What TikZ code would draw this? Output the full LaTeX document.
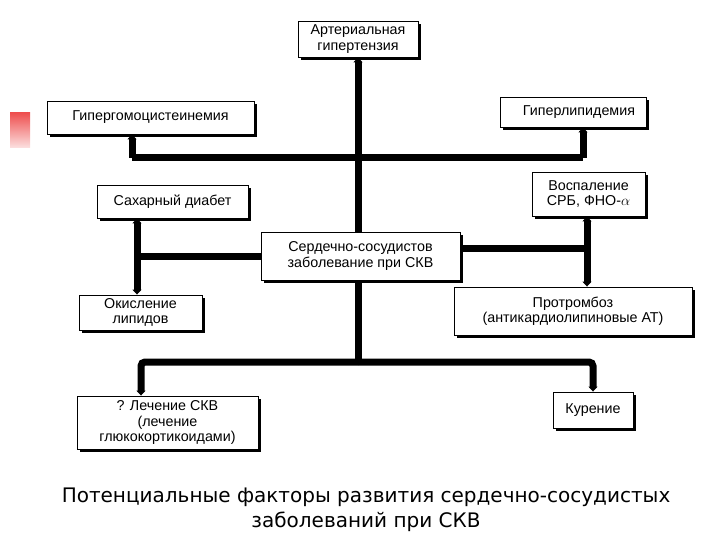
\documentclass[tikz,border=0pt]{standalone}
\usepackage{fontspec}
\setmainfont{Liberation Sans}
\newfontfamily\capfont{DejaVu Sans}
\usetikzlibrary{shadows,arrows.meta}
\tikzset{
  box/.style={draw=black, line width=0.9pt, fill=white, align=center, inner sep=1pt,
    font=\fontsize{14.3}{15.5}\selectfont,
    drop shadow={shadow xshift=3pt, shadow yshift=-3pt, opacity=1, fill=black}},
  bus/.style={line width=7pt, draw=black, rounded corners=4pt},
  tipped/.style={bus, -{Triangle[width=9pt,length=5pt]}},
}
\begin{document}
\begin{tikzpicture}[x=1pt,y=-1pt]
\useasboundingbox (0,0) rectangle (720,540);
% red marker
\shade[top color={rgb,255:red,238;green,80;blue,80}, bottom color={rgb,255:red,252;green,225;blue,225}] (10,113) rectangle (30,148);
% boxes
\node[box, minimum width=120pt, minimum height=36pt] (art) at (358,39) {Артериальная\\гипертензия};
\node[box, minimum width=207pt, minimum height=33pt] (hcy) at (150.5,117.5) {Гипергомоцистеинемия};
\node[box, minimum width=146pt, minimum height=30pt] (hlip) at (573,112) {\hspace*{12pt}Гиперлипидемия};
\node[box, minimum width=151pt, minimum height=33pt] (diab) at (172.5,201.5) {Сахарный диабет};
\node[box, minimum width=113pt, minimum height=44pt] (infl) at (588.5,194) {Воспаление\\СРБ, ФНО-$\alpha$};
\node[box, minimum width=199pt, minimum height=48pt] (cvd) at (360.5,256) {Сердечно-сосудистов\\заболевание при СКВ};
\node[box, minimum width=123pt, minimum height=35pt] (oxid) at (140.5,312.5) {Окисление\\липидов};
\node[box, minimum width=238pt, minimum height=48pt] (thr) at (573,311) {Протромбоз\\(антикардиолипиновые АТ)};
\node[box, minimum width=181pt, minimum height=53pt] (trt) at (167.5,422.5) {? Лечение СКВ\\(лечение\\глюкокортикоидами)};
\node[box, minimum width=80pt, minimum height=36pt] (smk) at (593,410) {Курение};
% junction coordinates
\coordinate (tL) at (132,158);
\coordinate (tR) at (583,158);
\coordinate (lV) at (137,256);
\coordinate (rV) at (587,248);
\coordinate (bC) at (358,362);
\coordinate (bL) at (141,362);
\coordinate (bR) at (593,362);
% top connectors
\draw[tipped] (cvd.north -| art.south) -- (art.south);
\draw[bus] (tL) -- (tR);
\draw[tipped] (tL) -- (tL |- hcy.south);
\draw[tipped] (tR) -- (tR |- hlip.south);
% left
\draw[bus] (cvd.west |- lV) -- (lV);
\draw[tipped] (lV) -- (lV |- diab.south);
\draw[tipped] (lV) -- (lV |- oxid.north);
% right
\draw[bus] (cvd.east |- rV) -- (rV);
\draw[tipped] (rV) -- (rV |- infl.south);
\draw[tipped] (rV) -- (rV |- thr.north);
% bottom
\draw[bus] (cvd.south -| bC) -- (bC);
\draw[tipped] (bC) -- (bL) -- (bL |- trt.north);
\draw[tipped] (bC) -- (bR) -- (bR |- smk.north);
% caption
\node[font=\capfont\fontsize{20}{25}\selectfont, align=center] (cap) at (366,510)
  {Потенциальные факторы развития сердечно-сосудистых\\заболеваний при СКВ};
\end{tikzpicture}
\end{document}
